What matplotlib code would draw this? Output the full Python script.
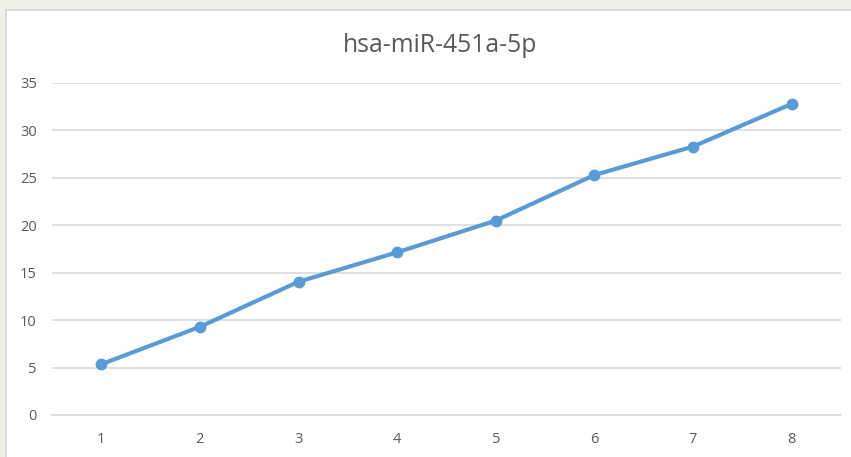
import matplotlib
matplotlib.use("Agg")
import matplotlib.pyplot as plt
from matplotlib.patches import Rectangle

categories = [1, 2, 3, 4, 5, 6, 7, 8]
values = [5.35, 9.3, 14.05, 17.15, 20.5, 25.3, 28.3, 32.8]
yticks = [0, 5, 10, 15, 20, 25, 30, 35]
title = "hsa-miR-451a-5p"

plt.rcParams['font.family'] = ['Open Sans', 'DejaVu Sans']

W, H = 851, 457
fig = plt.figure(figsize=(W / 100, H / 100), dpi=100)
fig.patch.set_facecolor('#eef0e8')
bg = fig.add_axes([0, 0, 1, 1], zorder=0)
bg.set_axis_off()
bg.set_xlim(0, W)
bg.set_ylim(H, 0)
bg.add_patch(Rectangle((6, 10), W, H, facecolor='white', edgecolor='#d4d4d4', linewidth=1.2))

ax = fig.add_axes([52 / W, (H - 415) / H, (841 - 52) / W, (415 - 83) / H], zorder=1)
ax.set_facecolor('none')
ax.plot(categories, values, color='#5B9BD5', linewidth=3, marker='o', markersize=7.5,
        solid_capstyle='round', zorder=3, clip_on=False)
ax.set_xlim(0.5, 8.5)
ax.set_ylim(0, 35)
ax.set_yticks(yticks)
ax.set_xticks(categories)
ax.grid(axis='y', color='#d9d9d9', linewidth=1.2)
ax.set_axisbelow(True)
for s in ['top', 'right', 'left']:
    ax.spines[s].set_visible(False)
ax.spines['bottom'].set_color('#d9d9d9')
ax.spines['bottom'].set_linewidth(1.2)
ax.tick_params(axis='both', length=0, labelsize=10.5, labelcolor='#595959')
ax.tick_params(axis='y', pad=11)
ax.tick_params(axis='x', pad=12)

fig.text(440 / W, 1 - 45 / H, title, ha='center', va='center', fontsize=17.8, color='#595959',
         zorder=2)

fig.savefig('out.png', dpi=100, facecolor=fig.get_facecolor())
